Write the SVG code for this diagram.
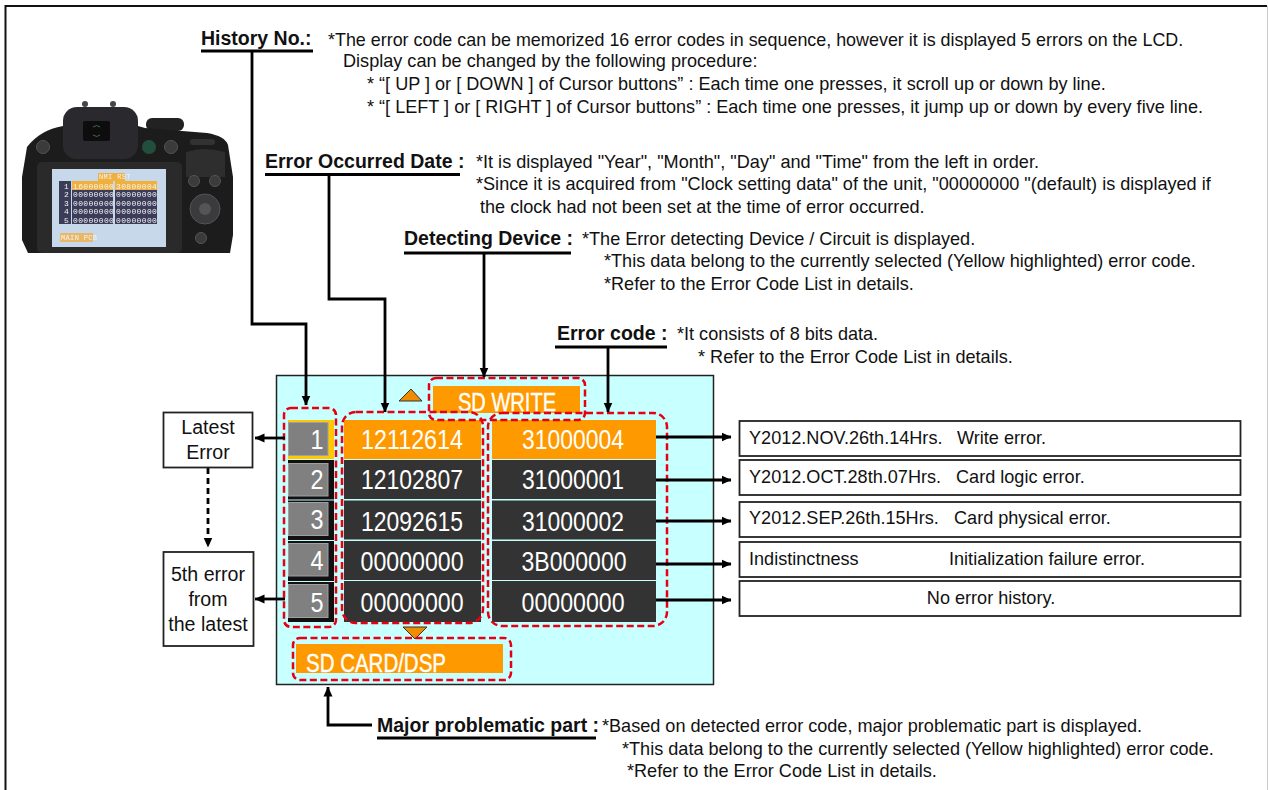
<svg xmlns="http://www.w3.org/2000/svg" width="1268" height="790" viewBox="0 0 1268 790">
<style>
text{font-family:"Liberation Sans",Arial,sans-serif;fill:#111}
.h{font-size:19.5px;font-weight:bold}
.t{font-size:18.100px}
.b{font-size:19.6px;text-anchor:middle}
.w{fill:#fff;font-size:28px;text-anchor:middle}
.c{fill:#fff;font-size:25px;stroke:#fff;stroke-width:.4}
.m{font-family:"Liberation Mono",monospace;font-size:8px;fill:#f4f4f4;letter-spacing:.35px}
.l{stroke:#000;stroke-width:2.800;fill:none}
.k{stroke:#222;stroke-width:1.800;fill:#fff}
.r{stroke:#e60012;stroke-width:2.500;stroke-dasharray:7 3.500;fill:none}
.d{fill:#333}
.o{fill:#ff9900}
.g{fill:#808080;stroke:#a0a0a0;stroke-width:1}
.bt{fill:#3a3a3c;stroke:#555;stroke-width:1}
</style>
<defs>
<marker id="a" markerUnits="userSpaceOnUse" markerWidth="10" markerHeight="10" refX="9.500" refY="5" orient="auto"><path d="M0 .5L10 5L0 9.500z" fill="#000"/></marker>
<filter id="soft"><feGaussianBlur stdDeviation=".45"/></filter>
</defs>
<rect width="1268" height="790" fill="#fff"/>
<path d="M5.500 790V6H1267" fill="none" stroke="#111" stroke-width="2"/>
<path d="M1267.500 6V790" fill="none" stroke="#ccc"/>
<g id="camera" filter="url(#soft)">
<circle cx="85" cy="104" r="3" fill="#444"/>
<circle cx="113" cy="104" r="3" fill="#444"/>
<rect x="146" y="118" width="38" height="13" rx="6" fill="#222"/>
<path d="M27 147Q40 130 63 126H138L145 128L207 133Q225 136 228 145L233 177V235L230 253H28L22 240V177z" fill="#1d1d1f"/>
<rect x="63" y="107" width="75" height="52" rx="14" fill="#2c2c2e"/>
<rect x="83" y="121" width="27" height="20" rx="2" fill="#0d0d0d"/>
<path d="M93 127q4-3 7 0M93 135q4 3 7 0" stroke="#3d6b4a" fill="none"/>
<path d="M186 152Q205 146 225 152V177H186z" fill="#2d2d2f"/>
<rect x="190" y="139" width="25" height="6" rx="3" fill="#333"/>
<rect x="37" y="162" width="145" height="91" rx="5" fill="#2a2a2c"/>
<rect x="52" y="169" width="114" height="78" fill="#c6d8ea"/>
<rect x="59" y="181" width="12" height="43" fill="#3a3c58"/>
<rect x="72" y="181" width="41" height="9" fill="#f0b040"/>
<rect x="115" y="181" width="42" height="9" fill="#f0b040"/>
<rect x="72" y="190" width="41" height="34" fill="#3a3c58"/>
<rect x="115" y="190" width="42" height="34" fill="#3a3c58"/>
<rect x="98" y="173" width="27" height="8" fill="#f0b040"/>
<rect x="60" y="233" width="33" height="9" fill="#e8b868"/>
<text class="m" x="99" y="179" style="font-size:7px">NMI RST</text>
<text class="m" x="73" y="188.500">16000000</text><text class="m" x="116" y="188.500">30800004</text>
<text class="m" x="73" y="197">00000000</text><text class="m" x="116" y="197">00000000</text>
<text class="m" x="73" y="205.500">00000000</text><text class="m" x="116" y="205.500">00000000</text>
<text class="m" x="73" y="214">00000000</text><text class="m" x="116" y="214">00000000</text>
<text class="m" x="73" y="222.500">00000000</text><text class="m" x="116" y="222.500">00000000</text>
<text class="m" x="64" y="188.500">1</text><text class="m" x="64" y="197">2</text><text class="m" x="64" y="205.500">3</text><text class="m" x="64" y="214">4</text><text class="m" x="64" y="222.500">5</text>
<text class="m" x="61" y="240" style="font-size:7px">MAIN PCB</text>
<circle class="bt" cx="205" cy="209" r="15"/>
<circle cx="205" cy="209" r="6" fill="#555"/>
<circle class="bt" cx="194" cy="181" r="5.500"/>
<circle class="bt" cx="215" cy="181" r="5.500"/>
<circle class="bt" cx="201" cy="238" r="5.500"/>
<circle cx="149" cy="147" r="7" fill="#24503c"/>
<circle class="bt" cx="171" cy="147" r="6.500"/>
<circle class="bt" cx="43" cy="147" r="6.500"/>
</g>
<g id="panel"><rect x="276.500" y="375.500" width="437" height="309" fill="#c8ffff" stroke="#222" stroke-width="1.500"/></g>
<g id="history-numbers">
<rect x="288" y="420" width="46" height="39" fill="#ffc800"/>
<rect x="288" y="460" width="46" height="39.500" fill="#111"/>
<rect x="288" y="500.500" width="46" height="39.500" fill="#111"/>
<rect x="288" y="541" width="46" height="40" fill="#111"/>
<rect x="288" y="582" width="46" height="40" fill="#111"/>
<rect class="g" x="288.500" y="422.500" width="39.500" height="33"/>
<rect class="g" x="288.500" y="463.500" width="39.500" height="32.500"/>
<rect class="g" x="288.500" y="502.500" width="39.500" height="33"/>
<rect class="g" x="288.500" y="543.500" width="39.500" height="32.500"/>
<rect class="g" x="288.500" y="584.500" width="39.500" height="33"/>
<text class="w" x="317" y="449" textLength="13" lengthAdjust="spacingAndGlyphs">1</text>
<text class="w" x="317" y="489" textLength="13" lengthAdjust="spacingAndGlyphs">2</text>
<text class="w" x="317" y="529" textLength="13" lengthAdjust="spacingAndGlyphs">3</text>
<text class="w" x="317" y="570" textLength="13" lengthAdjust="spacingAndGlyphs">4</text>
<text class="w" x="317" y="612" textLength="13" lengthAdjust="spacingAndGlyphs">5</text>
</g>
<g id="dates">
<rect class="o" x="344" y="420" width="137" height="39"/>
<rect class="d" x="344" y="460" width="137" height="39"/>
<rect class="d" x="344" y="500.500" width="137" height="39"/>
<rect class="d" x="344" y="541" width="137" height="39"/>
<rect class="d" x="344" y="581" width="137" height="41"/>
<text class="w" x="412" y="449" textLength="102" lengthAdjust="spacingAndGlyphs">12112614</text>
<text class="w" x="412" y="489" textLength="102" lengthAdjust="spacingAndGlyphs">12102807</text>
<text class="w" x="412" y="531" textLength="102" lengthAdjust="spacingAndGlyphs">12092615</text>
<text class="w" x="412" y="571" textLength="103" lengthAdjust="spacingAndGlyphs">00000000</text>
<text class="w" x="412" y="612" textLength="103" lengthAdjust="spacingAndGlyphs">00000000</text>
</g>
<g id="codes">
<rect class="o" x="492" y="420" width="164" height="39"/>
<rect class="d" x="492" y="460" width="164" height="39"/>
<rect class="d" x="492" y="500.500" width="164" height="39"/>
<rect class="d" x="492" y="541" width="164" height="39"/>
<rect class="d" x="492" y="581" width="164" height="41"/>
<text class="w" x="573" y="449" textLength="102" lengthAdjust="spacingAndGlyphs">31000004</text>
<text class="w" x="573" y="489" textLength="102" lengthAdjust="spacingAndGlyphs">31000001</text>
<text class="w" x="573" y="531" textLength="102" lengthAdjust="spacingAndGlyphs">31000002</text>
<text class="w" x="574" y="571" textLength="105" lengthAdjust="spacingAndGlyphs">3B000000</text>
<text class="w" x="573" y="612" textLength="103" lengthAdjust="spacingAndGlyphs">00000000</text>
</g>
<g id="device"><rect class="o" x="433" y="386" width="147" height="27"/><text class="c" x="458" y="411" textLength="98" lengthAdjust="spacingAndGlyphs">SD WRITE</text></g>
<g id="part"><rect class="o" x="296" y="644" width="207" height="29"/><text class="c" x="306" y="672" textLength="140" lengthAdjust="spacingAndGlyphs">SD CARD/DSP</text></g>
<path id="up" d="M399 401H422L411 389z" fill="#f08c00" stroke="#333"/>
<path id="down" d="M403 627H427L415 639z" fill="#f08c00" stroke="#333"/>
<g id="highlights">
<rect class="r" x="284" y="408" width="52" height="219" rx="7"/>
<rect class="r" x="342" y="412" width="141" height="211" rx="14"/>
<rect class="r" x="488" y="413" width="179" height="213" rx="14"/>
<rect class="r" x="429" y="378" width="156" height="42" rx="7"/>
<rect class="r" x="293" y="638" width="218" height="42" rx="7"/>
</g>
<g id="connectors">
<path class="l" d="M252 51V324H306V405" marker-end="url(#a)"/>
<path class="l" d="M329 175V299H385V412" marker-end="url(#a)"/>
<path class="l" d="M484 253V377" marker-end="url(#a)"/>
<path class="l" d="M608 347V412" marker-end="url(#a)"/>
<path class="l" d="M372 725H328V687" marker-end="url(#a)"/>
<path class="l" d="M285 438H255" marker-end="url(#a)"/>
<path class="l" d="M285 599H255" marker-end="url(#a)"/>
<path class="l" d="M208 468V547" stroke-dasharray="6 4" marker-end="url(#a)"/>
<path class="l" d="M656 437H731" marker-end="url(#a)"/>
<path class="l" d="M656 480H731" marker-end="url(#a)"/>
<path class="l" d="M656 521H731" marker-end="url(#a)"/>
<path class="l" d="M656 564H731" marker-end="url(#a)"/>
<path class="l" d="M656 600H731" marker-end="url(#a)"/>
</g>
<g id="latest"><rect class="k" x="163.500" y="412.500" width="89" height="55"/><text class="b" x="208" y="434">Latest</text><text class="b" x="208" y="459">Error</text></g>
<g id="fifth"><rect class="k" x="163.500" y="552" width="90" height="94"/><text class="b" x="208" y="581">5th error</text><text class="b" x="208" y="606">from</text><text class="b" x="208" y="631">the latest</text></g>
<g id="r1"><rect class="k" x="739.500" y="421" width="501" height="35"/><text class="t" x="749" y="444">Y2012.NOV.26th.14Hrs.</text><text class="t" x="957" y="444">Write error.</text></g>
<g id="r2"><rect class="k" x="739.500" y="460" width="501" height="35"/><text class="t" x="749" y="483">Y2012.OCT.28th.07Hrs.</text><text class="t" x="956" y="483">Card logic error.</text></g>
<g id="r3"><rect class="k" x="739.500" y="502" width="501" height="35"/><text class="t" x="749" y="524">Y2012.SEP.26th.15Hrs.</text><text class="t" x="954" y="524">Card physical error.</text></g>
<g id="r4"><rect class="k" x="739.500" y="542" width="501" height="35"/><text class="t" x="749" y="565">Indistinctness</text><text class="t" x="949" y="565">Initialization failure error.</text></g>
<g id="r5"><rect class="k" x="739.500" y="581" width="501" height="35"/><text class="t" x="991" y="604" text-anchor="middle">No error history.</text></g>
<g id="note-history">
<text class="h" x="201" y="45">History No.:</text><path class="l" d="M201 51H313"/>
<text class="t" x="328" y="46" style="font-size:17.900px">*The error code can be memorized 16 error codes in sequence, however it is displayed 5 errors on the LCD.</text>
<text class="t" x="343" y="67">Display can be changed by the following procedure:</text>
<text class="t" x="367" y="90">* “[ UP ] or [ DOWN ] of Cursor buttons” : Each time one presses, it scroll up or down by line.</text>
<text class="t" x="367" y="113">* “[ LEFT ] or [ RIGHT ] of Cursor buttons” : Each time one presses, it  jump up or down by every five line.</text>
</g>
<g id="note-date">
<text class="h" x="265" y="168">Error Occurred Date :</text><path class="l" d="M265 174.500H460"/>
<text class="t" x="476" y="168">*It is displayed "Year", "Month", "Day" and "Time" from the left in order.</text>
<text class="t" x="476" y="190">*Since it is acquired from "Clock setting data" of the unit, "00000000 "(default) is displayed if</text>
<text class="t" x="480" y="212.500">the clock had not been set at the time of error occurred.</text>
</g>
<g id="note-device">
<text class="h" x="404" y="245">Detecting Device :</text><path class="l" d="M404 253H571"/>
<text class="t" x="582" y="245">*The Error detecting Device / Circuit is displayed.</text>
<text class="t" x="604" y="267">*This data belong to the currently selected (Yellow highlighted) error code.</text>
<text class="t" x="604" y="290">*Refer to the Error Code List in details.</text>
</g>
<g id="note-code">
<text class="h" x="557" y="340">Error code :</text><path class="l" d="M555 347H667"/>
<text class="t" x="677" y="340">*It consists of 8 bits data.</text>
<text class="t" x="698" y="363">* Refer to the Error Code List in details.</text>
</g>
<g id="note-part">
<text class="h" x="377" y="732">Major problematic part :</text><path class="l" d="M377 738H596"/>
<text class="t" x="602" y="732">*Based on detected error code, major problematic part is displayed.</text>
<text class="t" x="622" y="755">*This data belong to the currently selected (Yellow highlighted) error code.</text>
<text class="t" x="627" y="777">*Refer to the Error Code List in details.</text>
</g>
</svg>
